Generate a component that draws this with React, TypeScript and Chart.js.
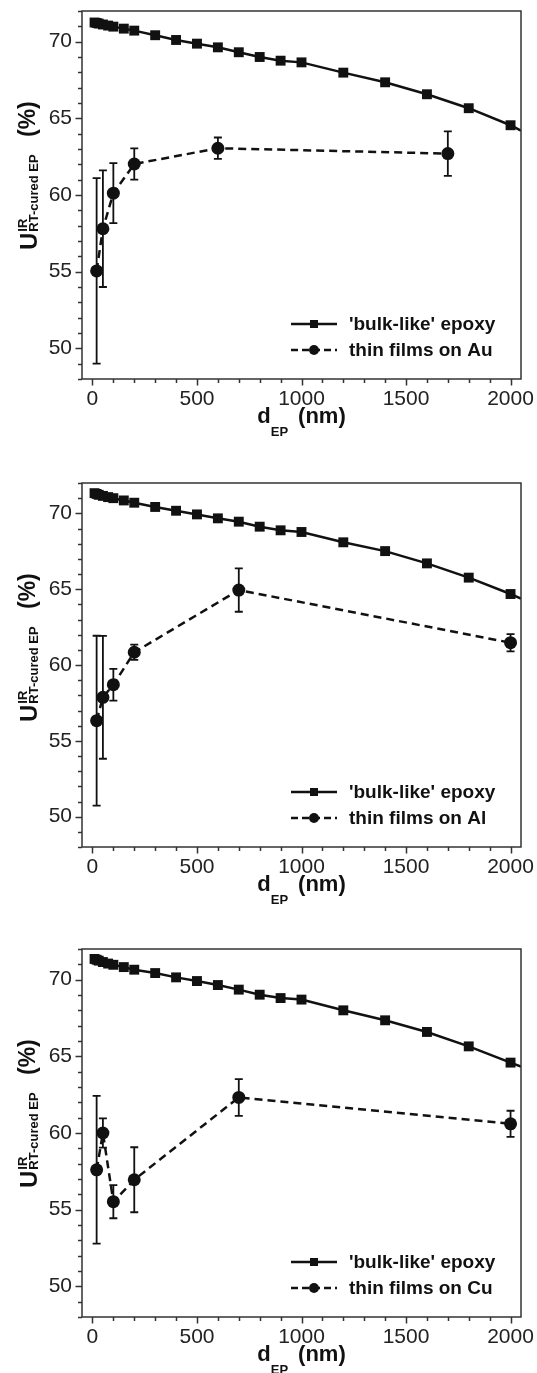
import React, { useEffect, useRef } from 'react';
import { Chart, registerables } from 'chart.js';
Chart.register(...registerables);

const FONT = '"Liberation Sans", Arial, Helvetica, sans-serif';
const INK = '#111';

// ---------- data ----------
const bulkX = [10, 20, 30, 50, 75, 100, 150, 200, 300, 400, 500, 600, 700, 800, 900, 1000, 1200, 1400, 1600, 1800, 2000];
const bulkAu = [71.25, 71.22, 71.18, 71.12, 71.05, 70.98, 70.85, 70.72, 70.42, 70.11, 69.87, 69.63, 69.31, 69.0, 68.76, 68.65, 67.98, 67.35, 66.57, 65.66, 64.55];
const bulkAl = [71.33, 71.28, 71.22, 71.15, 71.07, 71.0, 70.85, 70.7, 70.42, 70.17, 69.93, 69.67, 69.45, 69.12, 68.88, 68.77, 68.09, 67.51, 66.7, 65.76, 64.68];
const bulkCu = [71.35, 71.3, 71.24, 71.15, 71.05, 70.97, 70.82, 70.65, 70.43, 70.15, 69.91, 69.65, 69.35, 69.02, 68.8, 68.7, 68.0, 67.35, 66.59, 65.65, 64.59];
// fitted curve continues to the right edge of the frame
const fitEndX = 2050;
const fitEndAu = 64.2;
const fitEndAl = 64.38;
const fitEndCu = 64.33;

const auX = [20, 50, 100, 200, 600, 1700];
const auY = [55.05, 57.8, 60.12, 62.02, 63.05, 62.7];
const auErr = [6.05, 3.8, 1.96, 1.02, 0.7, 1.45];

const alX = [20, 50, 100, 200, 700, 2000];
const alY = [56.33, 57.87, 58.7, 60.84, 64.94, 61.47];
const alErr = [5.6, 4.05, 1.05, 0.5, 1.43, 0.57];

const cuX = [20, 50, 100, 200, 700, 2000];
const cuY = [57.6, 60.0, 55.52, 56.95, 62.32, 60.6];
const cuErr = [4.82, 0.95, 1.08, 2.12, 1.2, 0.85];

const bulkLabel = "'bulk-like' epoxy";
const filmLabels = ['thin films on Au', 'thin films on Al', 'thin films on Cu'];

const xMin = -50;
const xMax = 2050;
const yMin = 48;
const yMax = 72;
const xTickValues = [0, 100, 200, 300, 400, 500, 600, 700, 800, 900, 1000, 1100, 1200, 1300, 1400, 1500, 1600, 1700, 1800, 1900, 2000];
const yTickValues = [48, 49, 50, 51, 52, 53, 54, 55, 56, 57, 58, 59, 60, 61, 62, 63, 64, 65, 66, 67, 68, 69, 70, 71, 72];

// ---------- layout (pixels) ----------
const W = 537;
const PLOT_LEFT = 82;
const PLOT_RIGHT = 521;

const panels = [
  { top: 0, h: 470, plotTop: 11, plotBottom: 379, bulk: bulkAu, fitEnd: fitEndAu, fx: auX, fy: auY, fe: auErr, label: filmLabels[0] },
  { top: 470, h: 468, plotTop: 13, plotBottom: 377, bulk: bulkAl, fitEnd: fitEndAl, fx: alX, fy: alY, fe: alErr, label: filmLabels[1] },
  { top: 938, h: 435, plotTop: 11, plotBottom: 379, bulk: bulkCu, fitEnd: fitEndCu, fx: cuX, fy: cuY, fe: cuErr, label: filmLabels[2] },
];

const decor = {
  id: 'decor',
  afterDatasetsDraw(chart: any, _args: any, opts: any) {
    const { ctx, scales } = chart;
    const xs = scales.x;
    const ys = scales.y;
    // error bars for thin films
    ctx.save();
    ctx.strokeStyle = INK;
    ctx.lineWidth = 1.8;
    opts.fx.forEach((xv: number, i: number) => {
      const px = xs.getPixelForValue(xv);
      const t = ys.getPixelForValue(opts.fy[i] + opts.fe[i]);
      const b = ys.getPixelForValue(opts.fy[i] - opts.fe[i]);
      ctx.beginPath();
      ctx.moveTo(px, t);
      ctx.lineTo(px, b);
      ctx.moveTo(px - 4, t);
      ctx.lineTo(px + 4, t);
      ctx.moveTo(px - 4, b);
      ctx.lineTo(px + 4, b);
      ctx.stroke();
    });
    ctx.restore();
  },
  afterDraw(chart: any, _args: any, opts: any) {
    const { ctx, chartArea: a, scales } = chart;
    const xs = scales.x;
    const ys = scales.y;
    ctx.save();
    // frame
    ctx.strokeStyle = '#333';
    ctx.lineWidth = 1.5;
    ctx.strokeRect(a.left, a.top, a.right - a.left, a.bottom - a.top);
    // ticks
    ctx.beginPath();
    xTickValues.forEach((v) => {
      const px = Math.round(xs.getPixelForValue(v)) + 0.5;
      const len = v % 500 === 0 ? 6.5 : 4;
      ctx.moveTo(px, a.bottom);
      ctx.lineTo(px, a.bottom + len);
    });
    yTickValues.forEach((v) => {
      const py = Math.round(ys.getPixelForValue(v)) + 0.5;
      const len = v % 5 === 0 ? 6.5 : 4;
      ctx.moveTo(a.left, py);
      ctx.lineTo(a.left - len, py);
    });
    ctx.stroke();

    // legend
    ctx.fillStyle = INK;
    ctx.strokeStyle = INK;
    const lx0 = 291, lx1 = 337, lxc = 314, tx = 349;
    const r1 = a.bottom - 55, r2 = a.bottom - 29;
    ctx.lineWidth = 2.5;
    ctx.beginPath();
    ctx.moveTo(lx0, r1);
    ctx.lineTo(lx1, r1);
    ctx.stroke();
    ctx.fillRect(lxc - 4, r1 - 4, 8, 8);
    ctx.setLineDash([7, 4]);
    ctx.beginPath();
    ctx.moveTo(lx0, r2);
    ctx.lineTo(lx1, r2);
    ctx.stroke();
    ctx.setLineDash([]);
    ctx.beginPath();
    ctx.arc(lxc, r2, 5, 0, Math.PI * 2);
    ctx.fill();
    ctx.font = `bold 19px ${FONT}`;
    ctx.textBaseline = 'middle';
    ctx.textAlign = 'left';
    ctx.fillText(bulkLabel, tx, r1 + 1);
    ctx.fillText(opts.label, tx, r2 + 1);

    // x title: d_EP (nm)
    ctx.textBaseline = 'alphabetic';
    const big = `bold 22px ${FONT}`;
    const small = `bold 13px ${FONT}`;
    ctx.font = big;
    const wd = ctx.measureText('d').width;
    const wn = ctx.measureText('(nm)').width;
    ctx.font = small;
    const we = ctx.measureText('EP').width;
    const gap = 10;
    const total = wd + we + gap + wn;
    const sx = (a.left + a.right) / 2 - total / 2;
    const base = a.bottom + 44;
    ctx.font = big;
    ctx.fillText('d', sx, base);
    ctx.font = small;
    ctx.fillText('EP', sx + wd, base + 13);
    ctx.font = big;
    ctx.fillText('(nm)', sx + wd + we + gap, base);

    // y title: U^IR_RT-cured EP (%)
    ctx.translate(37, a.top + 239);
    ctx.rotate(-Math.PI / 2);
    ctx.font = `bold 24px ${FONT}`;
    ctx.fillText('U', 0, 0);
    const wu = ctx.measureText('U').width;
    ctx.font = small;
    ctx.fillText('IR', wu + 1, -10);
    ctx.fillText('RT-cured EP', wu + 1, 1);
    ctx.font = `bold 23px ${FONT}`;
    ctx.fillText('(%)', 113, -2);
    ctx.restore();
  },
};

function Panel({ p }: { p: (typeof panels)[number] }) {
  const ref = useRef<HTMLCanvasElement>(null);
  useEffect(() => {
    const canvas = ref.current!;
    const last = p.bulk.length - 1;
    const chart = new Chart(canvas, {
      type: 'scatter',
      data: {
        datasets: [
          {
            label: bulkLabel,
            data: bulkX.map((x, i) => ({ x, y: p.bulk[i] })),
            showLine: true,
            borderColor: INK,
            backgroundColor: INK,
            borderWidth: 2.5,
            pointStyle: 'rect',
            pointRadius: 7,
            pointBorderWidth: 0,
          },
          {
            label: 'fit',
            data: [
              { x: bulkX[last], y: p.bulk[last] },
              { x: fitEndX, y: p.fitEnd },
            ],
            showLine: true,
            borderColor: INK,
            borderWidth: 2.5,
            pointRadius: 0,
          },
          {
            label: p.label,
            data: p.fx.map((x, i) => ({ x, y: p.fy[i] })),
            showLine: true,
            borderColor: INK,
            backgroundColor: INK,
            borderWidth: 2.5,
            borderDash: [8, 5],
            pointStyle: 'circle',
            pointRadius: 6.5,
            pointBorderWidth: 0,
          },
        ],
      },
      options: {
        animation: false,
        responsive: false,
        devicePixelRatio: 1,
        layout: { padding: { top: p.plotTop, right: W - PLOT_RIGHT, left: 0, bottom: 0 } },
        plugins: {
          legend: { display: false },
          tooltip: { enabled: false },
          decor: { fx: p.fx, fy: p.fy, fe: p.fe, label: p.label },
        } as any,
        scales: {
          x: {
            type: 'linear',
            min: xMin,
            max: xMax,
            grid: { display: false, drawTicks: false },
            border: { display: false },
            afterBuildTicks: (s: any) => {
              s.ticks = xTickValues.map((v) => ({ value: v }));
            },
            ticks: {
              autoSkip: false,
              maxRotation: 0,
              padding: 8,
              color: '#222',
              font: { family: FONT, size: 21 },
              callback: (v: any) => (Number(v) % 500 === 0 ? String(v) : ''),
            },
            afterFit: (s: any) => {
              s.height = p.h - p.plotBottom;
              s.paddingLeft = 0;
              s.paddingRight = 0;
            },
          },
          y: {
            min: yMin,
            max: yMax,
            grid: { display: false, drawTicks: false },
            border: { display: false },
            afterBuildTicks: (s: any) => {
              s.ticks = yTickValues.map((v) => ({ value: v }));
            },
            ticks: {
              autoSkip: false,
              padding: 10,
              color: '#222',
              font: { family: FONT, size: 21 },
              callback: (v: any) => (Number(v) % 5 === 0 ? String(v) : ''),
            },
            afterFit: (s: any) => {
              s.width = PLOT_LEFT;
              s.paddingTop = 0;
              s.paddingBottom = 0;
            },
          },
        },
      },
      plugins: [decor],
    });
    return () => chart.destroy();
  }, [p]);
  return (
    <canvas
      ref={ref}
      width={W}
      height={p.h}
      style={{ position: 'absolute', left: 0, top: p.top, width: W, height: p.h }}
    />
  );
}

export default function App() {
  return (
    <div style={{ position: 'absolute', left: 0, top: 0, width: W, height: 1373, background: '#fff' }}>
      {panels.map((p, i) => (
        <Panel key={i} p={p} />
      ))}
    </div>
  );
}
